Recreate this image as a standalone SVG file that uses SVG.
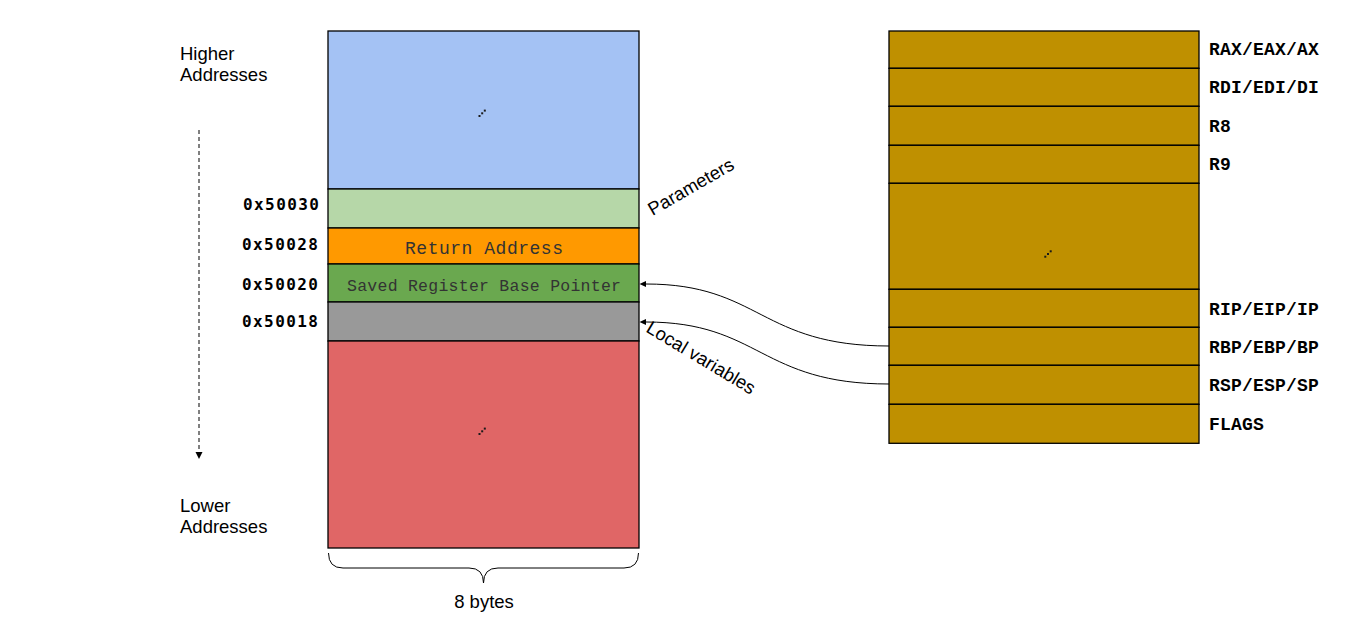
<svg xmlns="http://www.w3.org/2000/svg" width="1367" height="619" viewBox="0 0 1367 619">
<style>
.cell{stroke:#000;stroke-width:1.3}
.sans{font-family:"Liberation Sans",Arial,sans-serif;font-size:18.5px;fill:#000}
.reg{font-family:"Liberation Mono","Courier New",monospace;font-weight:bold;font-size:18px;letter-spacing:0.2px;fill:#000}
.addr{font-family:"DejaVu Sans Mono",monospace;font-weight:bold;font-size:16px;fill:#000}
.inner{font-family:"Liberation Mono","Courier New",monospace;fill:#333}
.dot{fill:#1a1a1a}
.conn{fill:none;stroke:#000;stroke-width:1}
</style>
<rect width="1367" height="619" fill="#fff"/>

<g id="stack">
<rect id="blk-higher" class="cell" x="328" y="31" width="311" height="158" fill="#a4c2f4"/>
<rect id="blk-params" class="cell" x="328" y="189" width="311" height="39" fill="#b6d7a8"/>
<rect id="blk-ret" class="cell" x="328" y="228" width="311" height="36" fill="#ff9900"/>
<rect id="blk-rbp" class="cell" x="328" y="264" width="311" height="38" fill="#6aa84f"/>
<rect id="blk-local" class="cell" x="328" y="302" width="311" height="39" fill="#999999"/>
<rect id="blk-lower" class="cell" x="328" y="341" width="311" height="207" fill="#e06666"/>
<text class="inner" x="405" y="254" font-size="18" textLength="158" lengthAdjust="spacing">Return Address</text>
<text class="inner" x="347" y="290.5" font-size="16.5" textLength="274" lengthAdjust="spacing">Saved Register Base Pointer</text>
<rect class="dot" x="478.5" y="115" width="2" height="2"/>
<rect class="dot" x="481.2" y="112.3" width="2" height="2"/>
<rect class="dot" x="483.8" y="109.6" width="2" height="2"/>
<rect class="dot" x="478.5" y="433" width="2" height="2"/>
<rect class="dot" x="481.2" y="430.3" width="2" height="2"/>
<rect class="dot" x="483.8" y="427.6" width="2" height="2"/>
</g>

<g id="addresses">
<text class="addr" x="243" y="209.5" textLength="76" lengthAdjust="spacing">0x50030</text>
<text class="addr" x="242" y="250" textLength="76" lengthAdjust="spacing">0x50028</text>
<text class="addr" x="242" y="289.5" textLength="76" lengthAdjust="spacing">0x50020</text>
<text class="addr" x="242" y="327" textLength="76" lengthAdjust="spacing">0x50018</text>
</g>

<g id="registers">
<rect class="cell" x="889" y="31" width="310" height="37.3" fill="#bf9000"/>
<rect class="cell" x="889" y="68.3" width="310" height="38" fill="#bf9000"/>
<rect class="cell" x="889" y="106.3" width="310" height="39" fill="#bf9000"/>
<rect class="cell" x="889" y="145.3" width="310" height="38" fill="#bf9000"/>
<rect class="cell" x="889" y="183.3" width="310" height="106" fill="#bf9000"/>
<rect class="cell" x="889" y="289.3" width="310" height="38" fill="#bf9000"/>
<rect class="cell" x="889" y="327.3" width="310" height="38" fill="#bf9000"/>
<rect class="cell" x="889" y="365.3" width="310" height="39" fill="#bf9000"/>
<rect class="cell" x="889" y="404.3" width="310" height="39" fill="#bf9000"/>
<rect class="dot" x="1044.3" y="255.7" width="2" height="2"/>
<rect class="dot" x="1047" y="253" width="2" height="2"/>
<rect class="dot" x="1049.7" y="250.3" width="2" height="2"/>
<text class="reg" x="1209" y="55">RAX/EAX/AX</text>
<text class="reg" x="1209" y="92.7">RDI/EDI/DI</text>
<text class="reg" x="1209" y="131.7">R8</text>
<text class="reg" x="1209" y="170">R9</text>
<text class="reg" x="1209" y="315">RIP/EIP/IP</text>
<text class="reg" x="1209" y="352.7">RBP/EBP/BP</text>
<text class="reg" x="1209" y="390.7">RSP/ESP/SP</text>
<text class="reg" x="1209" y="430">FLAGS</text>
</g>

<g id="labels">
<text class="sans" x="180" y="59.5">Higher</text>
<text class="sans" x="180" y="81">Addresses</text>
<text class="sans" x="180" y="511.5">Lower</text>
<text class="sans" x="180" y="533">Addresses</text>
<text class="sans" text-anchor="middle" transform="translate(691,187) rotate(-30)" x="0" y="6">Parameters</text>
<text class="sans" text-anchor="middle" transform="translate(701,358) rotate(31)" x="0" y="6">Local variables</text>
<text class="sans" text-anchor="middle" x="484" y="607.5">8 bytes</text>
</g>

<g id="connectors">
<path class="conn" d="M199,130 L199,452" stroke-dasharray="4,3"/>
<path d="M195.5,452 L199,459 L202.5,452 Z" fill="#000"/>
<path class="conn" d="M889,346 C760,346 760,284 646,284"/>
<path d="M646,281 L639.5,284 L646,287 Z" fill="#000"/>
<path class="conn" d="M889,384 C760,384 760,322 646,322"/>
<path d="M646,319 L639.5,322 L646,325 Z" fill="#000"/>
<path class="conn" d="M328.5,553 Q328.5,568 343,568 L469,568 Q483.5,568 483.5,583 Q483.5,568 498,568 L624,568 Q638.5,568 638.5,553"/>
</g>
</svg>
